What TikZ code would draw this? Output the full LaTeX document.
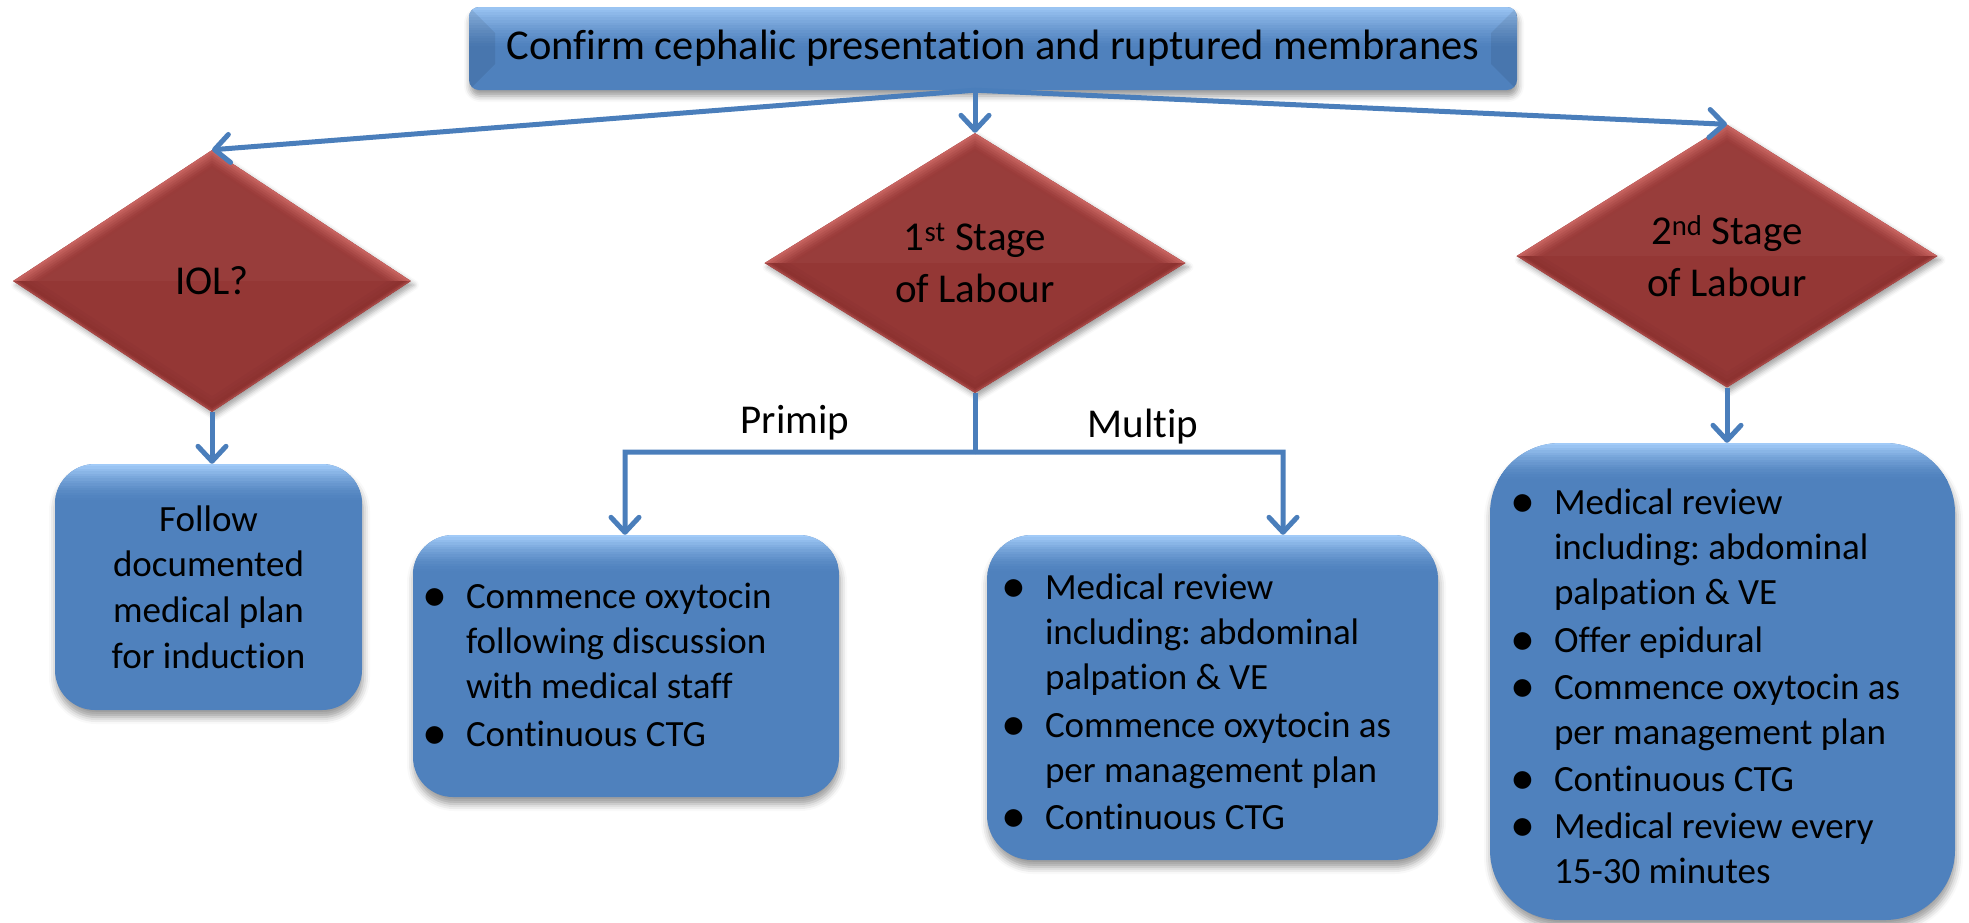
\documentclass[tikz,border=0pt]{standalone}
\usepackage{fontspec}
\usepackage{graphicx}
\setmainfont{Carlito}[Ligatures=NoCommon]
\usetikzlibrary{arrows.meta,shapes.geometric,calc,shadows.blur}

\definecolor{boxblue}{HTML}{4F81BD}
\definecolor{boxlight}{HTML}{A2CBF8}
\definecolor{linkblue}{HTML}{4A7EBB}
\definecolor{diared}{HTML}{963937}
\definecolor{diahi}{HTML}{CC6864}
\definecolor{dialo}{HTML}{862D2B}

\frenchspacing
\newcommand{\bodyfont}{\fontsize{37}{45}\selectfont}
% bullet centred on the column edge, text starting 31pt further right
\newcommand{\blt}{\makebox[31pt][l]{\makebox[0pt][c]{\raisebox{-3pt}{\scalebox{1.35}{\textbullet}}}}}

\tikzset{
  % light band fading down from the top edge of a rounded box
  topglow/.style={path picture={
    \foreach \i in {0,...,15} {
      \pgfmathsetmacro{\c}{100*(1-\i/15)^1.6}
      \fill[sharp corners, boxlight!\c!boxblue]
        ($(path picture bounding box.north west)+(0,\i*#1)$) rectangle
        ($(path picture bounding box.north east)+(0,\i*#1+#1+0.6)$);
    }}},
  rbox/.style={rounded corners=#1, fill=boxblue, inner ysep=0pt, topglow=2.4,
    blur shadow={shadow xshift=1pt, shadow yshift=-7pt, shadow blur radius=7pt, shadow opacity=40}},
  listtext/.style={inner sep=0pt, anchor=base west, font=\bodyfont},
  dia/.style={diamond, fill=diared, inner sep=0pt, align=center,
    font=\fontsize{41}{52}\selectfont,
    blur shadow={shadow xshift=3pt, shadow yshift=-4pt, shadow blur radius=5pt, shadow opacity=35},
    path picture={
      \path (path picture bounding box.north) coordinate (pN)
            (path picture bounding box.south) coordinate (pS)
            (path picture bounding box.east) coordinate (pE)
            (path picture bounding box.west) coordinate (pW)
            (path picture bounding box.center) coordinate (pC);
      % bevel of the upper half: light edge fading inwards
      \foreach \k/\c in {1/90,0.98/72,0.96/56,0.94/40,0.92/26,0.9/14,0.88/6} {
        \fill[diahi!\c!diared] ($(pC)!\k!(pW)$) -- ($(pC)!\k!(pN)$) -- ($(pC)!\k!(pE)$) -- cycle;
      }
      \fill[diared!98!white] ($(pC)!0.86!(pW)$) -- ($(pC)!0.86!(pN)$) -- ($(pC)!0.86!(pE)$) -- cycle;
      % bevel of the lower half: thin light rim, darker band
      \foreach \k/\c in {1/30,0.985/0} {
        \fill[diahi!\c!diared] ($(pC)!\k!(pW)$) -- ($(pC)!\k!(pS)$) -- ($(pC)!\k!(pE)$) -- cycle;
      }
      \foreach \k/\c in {0.97/60,0.94/45,0.91/30,0.88/15} {
        \fill[dialo!\c!diared] ($(pC)!\k!(pW)$) -- ($(pC)!\k!(pS)$) -- ($(pC)!\k!(pE)$) -- cycle;
      }
    }},
  titlebox/.style={rounded corners=10pt, fill=boxblue, minimum width=1048pt, minimum height=83pt,
    font=\fontsize{42.5}{51}\selectfont,
    blur shadow={shadow xshift=1pt, shadow yshift=-6pt, shadow blur radius=6pt, shadow opacity=40},
    path picture={
      \foreach \i in {0,...,15} {
        \pgfmathsetmacro{\c}{90*(1-\i/15)^1.3}
        \fill[sharp corners, boxlight!\c!boxblue]
          ($(path picture bounding box.north west)+(0,\i*2.6)$) rectangle
          ($(path picture bounding box.north east)+(0,\i*2.6+3.2)$);
      }
      % angled side bevels
      \fill[sharp corners, black, opacity=0.08]
        (path picture bounding box.north west) -- ++(26,26) -- ($(path picture bounding box.south west)+(26,-26)$)
        -- (path picture bounding box.south west) -- cycle
        (path picture bounding box.north east) -- ++(-26,26) -- ($(path picture bounding box.south east)+(-26,-26)$)
        -- (path picture bounding box.south east) -- cycle;
    }},
  lbl/.style={font=\fontsize{41}{49}\selectfont, inner sep=0pt},
  link/.style={draw=linkblue, line width=5pt},
  arr/.style={link, -{Straight Barb[length=15pt,width=28pt,round]}},
}

\begin{document}
\begin{tikzpicture}[x=1pt,y=-1pt]
\useasboundingbox (0,0) rectangle (1969,922);

% question boxes
\node[titlebox] (top) at (993,48.5) {Confirm cephalic presentation and ruptured membranes};
\node[dia, minimum width=398pt, minimum height=262pt] (iol) at (212,281) {IOL?};
\node[dia, minimum width=421pt, minimum height=260pt] (s1) at (975,263) {1\textsuperscript{st} Stage\\of Labour};
\node[dia, minimum width=421pt, minimum height=263pt] (s2) at (1727,256) {2\textsuperscript{nd} Stage\\of Labour};

% action boxes
\node[rbox=40pt, minimum width=307pt, minimum height=246pt, align=center,
      font=\fontsize{37}{45.7}\selectfont]
  (follow) at (208.5,587) {Follow\\documented\\medical plan\\for induction};
\node[rbox=40pt, minimum width=426pt, minimum height=262pt] (primip) at (626,666) {};
\node[rbox=45pt, minimum width=451pt, minimum height=325pt] (multip) at (1212.5,697.5) {};
\node[rbox=70pt, minimum width=465pt, minimum height=477pt] (stage2) at (1722.5,681.5) {};

% bullet lists inside the action boxes
\node[listtext] (primipList) at ($(primip.north west)+(22,74)$) {\begin{tabular}[t]{@{}l@{}l@{}}
    \blt & Commence oxytocin\\
         & following discussion\\
         & with medical staff\\[3pt]
    \blt & Continuous CTG
  \end{tabular}};
\node[listtext] (multipList) at ($(multip.north west)+(27,65)$) {\begin{tabular}[t]{@{}l@{}l@{}}
    \blt & Medical review\\
         & including: abdominal\\
         & palpation \& VE\\[3pt]
    \blt & Commence oxytocin as\\
         & per management plan\\[2pt]
    \blt & Continuous CTG
  \end{tabular}};
\node[listtext] (stage2List) at ($(stage2.north west)+(33,72)$) {\begin{tabular}[t]{@{}l@{}l@{}}
    \blt & Medical review\\
         & including: abdominal\\
         & palpation \& VE\\[2.5pt]
    \blt & Offer epidural\\[2pt]
    \blt & Commence oxytocin as\\
         & per management plan\\[2pt]
    \blt & Continuous CTG\\[2pt]
    \blt & Medical review every\\
         & 15-30 minutes
  \end{tabular}};

% branch labels
\node[lbl] (lp) at (795,423) {Primip};
\node[lbl] (lm) at (1143,427) {Multip};

% connectors
\coordinate (junc) at (top.south -| s1.north);
\draw[arr] (junc) -- (iol.north);
\draw[arr] (junc) -- (s1.north);
\draw[arr] (junc) -- (s2.north);
\draw[arr] (iol.south) -- (iol.south |- follow.north);

\coordinate (fork) at ($(s1.south)+(0,59)$);
\coordinate (forkL) at (625,452);
\coordinate (forkR) at (1283,452);
\draw[link] (s1.south) -- (fork);
\draw[arr] (fork) -- (forkL) -- (forkL |- primip.north);
\draw[arr] (fork) -- (forkR) -- (forkR |- multip.north);
\draw[arr] (s2.south) -- (s2.south |- stage2.north);
\end{tikzpicture}
\end{document}
